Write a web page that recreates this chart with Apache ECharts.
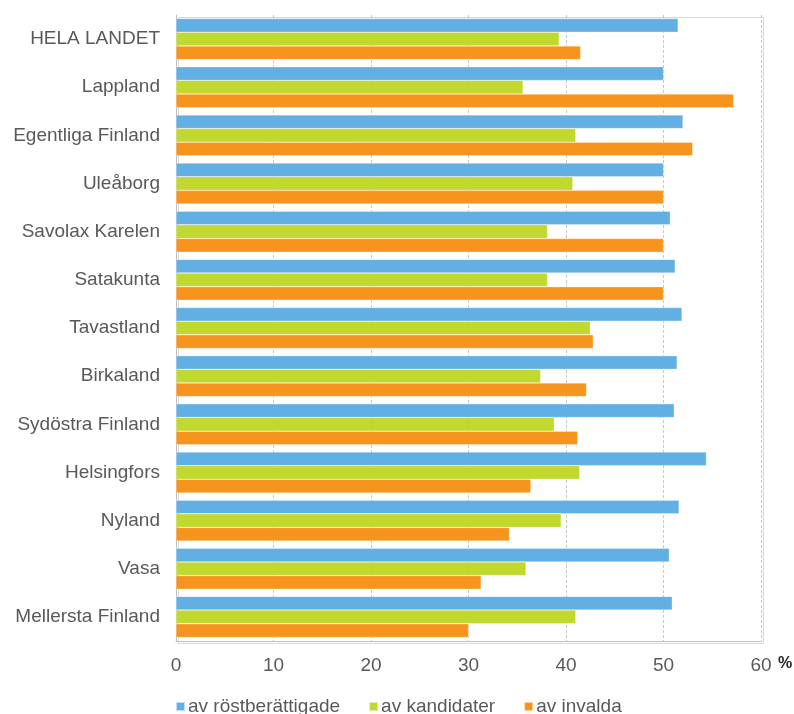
<!DOCTYPE html>
<html><head><meta charset="utf-8">
<script src="https://cdn.jsdelivr.net/npm/echarts@6/dist/echarts.min.js"></script>
<style>html,body{margin:0;padding:0;background:#fff}#c{width:794px;height:714px}</style>
</head><body><div id="c"></div>
<script>
const categories = ["HELA LANDET","Lappland","Egentliga Finland","Uleåborg","Savolax Karelen","Satakunta","Tavastland","Birkaland","Sydöstra Finland","Helsingfors","Nyland","Vasa","Mellersta Finland"];
const seriesNames = ["av röstberättigade","av kandidater","av invalda"];
const rostberattigade = [51.5,50.0,52.0,50.0,50.7,51.2,51.9,51.4,51.1,54.4,51.6,50.6,50.9];
const kandidater = [39.3,35.6,41.0,40.7,38.1,38.1,42.5,37.4,38.8,41.4,39.5,35.9,41.0];
const invalda = [41.5,57.2,53.0,50.0,50.0,50.0,42.8,42.1,41.2,36.4,34.2,31.3,30.0];
const xTicks = [0,10,20,30,40,50,60];
const colors = ["#62AFE3","#C1D82F","#F7941E"];
const font = "'Liberation Sans', Arial, sans-serif";

const chart = echarts.init(document.getElementById('c'), null, {renderer:'canvas'});
const mk = (name, data, i) => ({
  name, type:'bar', data,
  itemStyle:{color:colors[i], borderColor:'rgba(255,255,255,0.6)', borderWidth:0.5},
  barGap:'0%', barCategoryGap:'15%'
});
chart.setOption({
  animation:false,
  textStyle:{fontFamily:font},
  grid:{left:176, right:33, top:15, bottom:73, containLabel:false},
  xAxis:{type:'value', min:xTicks[0], max:xTicks[xTicks.length-1], interval:10,
    axisLine:{show:true, lineStyle:{color:'#bfbfbf'}},
    axisTick:{show:false},
    axisLabel:{color:'#595959', fontSize:19, fontFamily:font, margin:15},
    splitLine:{show:true, lineStyle:{color:'#c8c8c8', type:[3,2], width:1}}
  },
  yAxis:{type:'category', data:categories, inverse:true,
    axisLine:{show:true, lineStyle:{color:'#bfbfbf'}},
    axisTick:{show:false},
    axisLabel:{color:'#595959', fontSize:19, fontFamily:font, margin:16}
  },
  legend:{data:seriesNames, bottom:-2, left:175, padding:0, icon:'rect', itemWidth:9, itemHeight:9, itemGap:28,
    textStyle:{color:'#595959', fontSize:19, fontFamily:font, padding:[0,0,0,-2]}},
  graphic:[
    {type:'rect', left:176, top:15, shape:{width:585, height:626}, style:{fill:'none', stroke:'#d9d9d9', lineWidth:1}, silent:true, z:-1},
    {type:'text', left:778, top:656, style:{text:'%', fill:'#262626', font:"bold 16px 'Liberation Sans', Arial, sans-serif"}}
  ],
  series:[mk(seriesNames[0], rostberattigade,0), mk(seriesNames[1], kandidater,1), mk(seriesNames[2], invalda,2)]
});
</script></body></html>
